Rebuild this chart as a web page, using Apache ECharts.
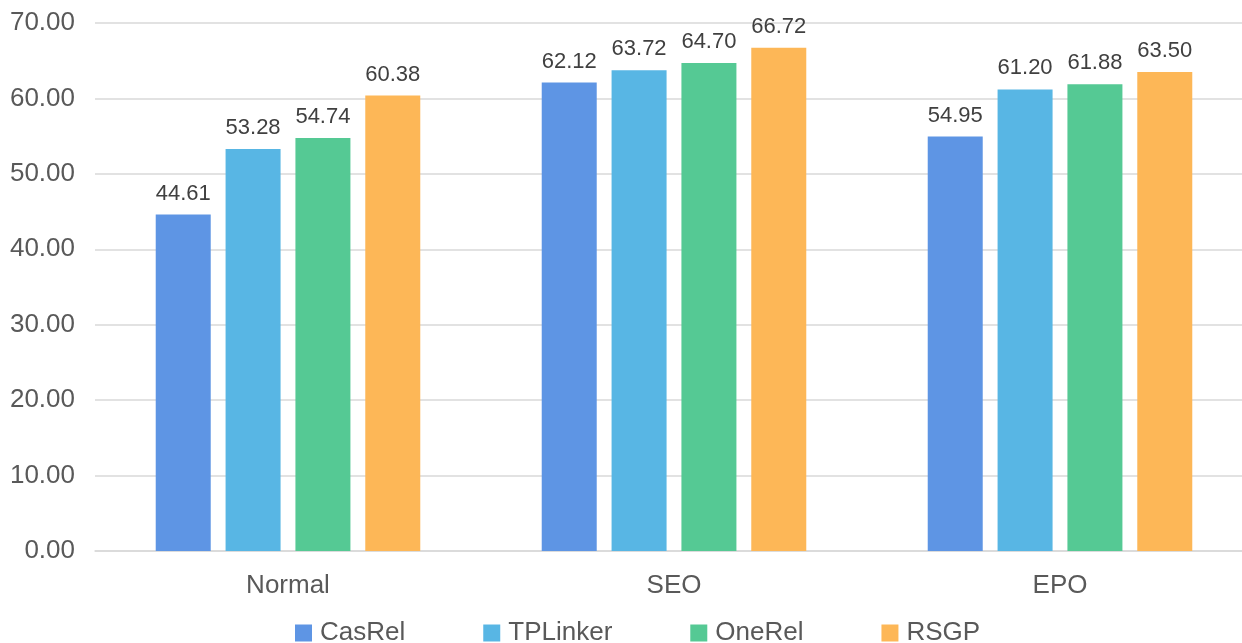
<!DOCTYPE html>
<html><head><meta charset="utf-8">
<script src="https://cdn.jsdelivr.net/npm/echarts@6/dist/echarts.min.js"></script>
<style>html,body{margin:0;padding:0;background:#fff;overflow:hidden}#c{width:1253px;height:643px}</style>
</head><body><div id="c"></div>
<script>
const categories = ['Normal', 'SEO', 'EPO'];
const seriesNames = ['CasRel', 'TPLinker', 'OneRel', 'RSGP'];
const casRel = [44.61, 62.12, 54.95];
const tpLinker = [53.28, 63.72, 61.20];
const oneRel = [54.74, 64.70, 61.88];
const rsgp = [60.38, 66.72, 63.50];
const colors = ['#5E95E4', '#58B6E4', '#55C994', '#FDB757'];
const values = [casRel, tpLinker, oneRel, rsgp];
const FONT = '"Liberation Sans", Arial, sans-serif';

const chart = echarts.init(document.getElementById('c'));
chart.setOption({
  animation: false,
  legend: {
    left: 290, top: 615, itemWidth: 17, itemHeight: 17, itemGap: 78,
    icon: 'rect',
    textStyle: { fontSize: 26, color: '#595959', fontFamily: FONT, padding: [0, 0, 0, 3] },
    data: seriesNames
  },
  grid: { left: 95, right: 0, top: 23, bottom: 92 },
  xAxis: {
    type: 'category', data: categories,
    axisLine: { lineStyle: { color: '#d9d9d9', width: 1.5 } },
    axisTick: { show: false },
    axisLabel: { fontSize: 26, color: '#595959', margin: 22, fontFamily: FONT }
  },
  yAxis: {
    type: 'value', min: 0, max: 70, interval: 10,
    axisLine: { show: false }, axisTick: { show: false },
    splitLine: { lineStyle: { color: '#d9d9d9', width: 1.5 } },
    axisLabel: { fontSize: 26, color: '#595959', margin: 20, fontFamily: FONT,
      formatter: v => v.toFixed(2) }
  },
  series: values.map((arr, i) => ({
    name: seriesNames[i], type: 'bar', data: arr,
    barWidth: 55, barGap: '27%',
    itemStyle: { color: colors[i] },
    label: { show: true, position: 'top', distance: 10, fontSize: 22, color: '#404040',
      fontFamily: FONT, formatter: p => p.value.toFixed(2) }
  }))
});
</script></body></html>
